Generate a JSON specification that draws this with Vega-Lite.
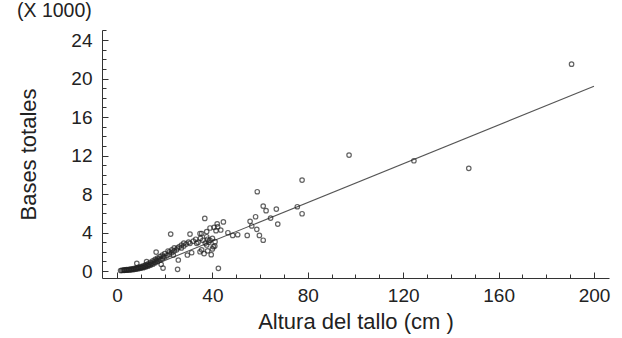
{
  "$schema": "https://vega.github.io/schema/vega-lite/v6.json",
  "width": 507,
  "height": 248,
  "autosize": {"type": "none"},
  "padding": {"left": 102, "top": 30, "right": 13, "bottom": 60},
  "background": "white",
  "title": {"text": "(X 1000)", "anchor": "start", "frame": "group", "dx": -85, "dy": 19, "offset": 12, "baseline": "alphabetic", "fontSize": 19.5, "font": "Liberation Sans", "fontWeight": "normal", "color": "#222"},
  "config": {
    "view": {"stroke": null},
    "axis": {"grid": false, "labelFont": "Liberation Sans", "titleFont": "Liberation Sans", "labelColor": "#222", "titleColor": "#222", "domainColor": "#333", "tickColor": "#333", "titleFontWeight": "normal", "labelOverlap": false, "labelFlush": false}
  },
  "datasets": {
    "points": [
      {"altura": 1.5, "bases": 0.05}, {"altura": 2, "bases": 0.06}, {"altura": 2.5, "bases": 0.08}, {"altura": 3, "bases": 0.07},
      {"altura": 3, "bases": 0.12}, {"altura": 3.5, "bases": 0.1}, {"altura": 4, "bases": 0.09}, {"altura": 4, "bases": 0.15},
      {"altura": 4.5, "bases": 0.12}, {"altura": 5, "bases": 0.1}, {"altura": 5, "bases": 0.18}, {"altura": 5.5, "bases": 0.14},
      {"altura": 6, "bases": 0.12}, {"altura": 6, "bases": 0.22}, {"altura": 6.5, "bases": 0.18}, {"altura": 7, "bases": 0.15},
      {"altura": 7, "bases": 0.26}, {"altura": 7.5, "bases": 0.22}, {"altura": 8, "bases": 0.2}, {"altura": 8, "bases": 0.32},
      {"altura": 8.3, "bases": 0.8}, {"altura": 8.5, "bases": 0.27}, {"altura": 9, "bases": 0.24}, {"altura": 9, "bases": 0.38},
      {"altura": 9.5, "bases": 0.33}, {"altura": 10, "bases": 0.3}, {"altura": 10, "bases": 0.45}, {"altura": 10.5, "bases": 0.4},
      {"altura": 11, "bases": 0.35}, {"altura": 11, "bases": 0.55}, {"altura": 11.5, "bases": 0.48}, {"altura": 12, "bases": 0.42},
      {"altura": 12, "bases": 0.65}, {"altura": 12.4, "bases": 0.97}, {"altura": 12.5, "bases": 0.58}, {"altura": 13, "bases": 0.5},
      {"altura": 13, "bases": 0.75}, {"altura": 13.5, "bases": 0.68}, {"altura": 14, "bases": 0.6}, {"altura": 14, "bases": 0.9},
      {"altura": 14.5, "bases": 0.8}, {"altura": 15, "bases": 0.7}, {"altura": 15, "bases": 1.05}, {"altura": 15.5, "bases": 0.95},
      {"altura": 16, "bases": 0.85}, {"altura": 16, "bases": 1.2}, {"altura": 16.4, "bases": 1.97}, {"altura": 16.5, "bases": 1.1},
      {"altura": 17, "bases": 1.0}, {"altura": 17, "bases": 1.35}, {"altura": 17.5, "bases": 1.25}, {"altura": 18, "bases": 1.15},
      {"altura": 18, "bases": 1.5}, {"altura": 18.5, "bases": 0.7}, {"altura": 19, "bases": 1.3}, {"altura": 19, "bases": 1.65},
      {"altura": 19.3, "bases": 0.3}, {"altura": 19.5, "bases": 1.5}, {"altura": 20, "bases": 1.45}, {"altura": 20, "bases": 1.8},
      {"altura": 21, "bases": 1.6}, {"altura": 21.4, "bases": 2.08}, {"altura": 22, "bases": 1.75}, {"altura": 22, "bases": 2.0},
      {"altura": 22.5, "bases": 3.84}, {"altura": 23, "bases": 1.9}, {"altura": 23, "bases": 2.2}, {"altura": 23.6, "bases": 1.66},
      {"altura": 24, "bases": 2.1}, {"altura": 24, "bases": 2.4}, {"altura": 25, "bases": 2.2}, {"altura": 25.3, "bases": 2.39},
      {"altura": 25.4, "bases": 0.17}, {"altura": 25.7, "bases": 1.14}, {"altura": 26, "bases": 2.5}, {"altura": 27, "bases": 2.4},
      {"altura": 27, "bases": 2.7}, {"altura": 28, "bases": 2.6}, {"altura": 28, "bases": 2.9}, {"altura": 29, "bases": 2.8},
      {"altura": 29.5, "bases": 1.66}, {"altura": 30, "bases": 3.0}, {"altura": 30.6, "bases": 2.88}, {"altura": 30.6, "bases": 3.84},
      {"altura": 31.3, "bases": 1.9}, {"altura": 32, "bases": 3.1}, {"altura": 33, "bases": 3.3}, {"altura": 33.4, "bases": 2.88},
      {"altura": 34, "bases": 3.0}, {"altura": 34.8, "bases": 2.0}, {"altura": 34.8, "bases": 3.9}, {"altura": 35, "bases": 3.4},
      {"altura": 35.5, "bases": 3.9}, {"altura": 35.5, "bases": 2.2}, {"altura": 36, "bases": 3.2}, {"altura": 36.5, "bases": 1.8},
      {"altura": 36.8, "bases": 5.47}, {"altura": 37, "bases": 2.9}, {"altura": 37.6, "bases": 2.7}, {"altura": 37.6, "bases": 3.56},
      {"altura": 37.6, "bases": 4.1}, {"altura": 38, "bases": 3.3}, {"altura": 38, "bases": 2.1}, {"altura": 38.5, "bases": 3.0},
      {"altura": 39, "bases": 3.2}, {"altura": 39, "bases": 4.47}, {"altura": 39.5, "bases": 1.7}, {"altura": 40, "bases": 3.4},
      {"altura": 40, "bases": 2.3}, {"altura": 40.4, "bases": 2.53}, {"altura": 40.7, "bases": 4.54}, {"altura": 41, "bases": 2.6},
      {"altura": 41.1, "bases": 3.05}, {"altura": 41.5, "bases": 4.19}, {"altura": 42, "bases": 4.9}, {"altura": 42.2, "bases": 4.6},
      {"altura": 42.5, "bases": 0.28}, {"altura": 43.5, "bases": 4.26}, {"altura": 44.6, "bases": 5.1}, {"altura": 46.5, "bases": 3.98},
      {"altura": 48.5, "bases": 3.7}, {"altura": 50.6, "bases": 3.77}, {"altura": 54.6, "bases": 3.7}, {"altura": 55.8, "bases": 5.16},
      {"altura": 56.5, "bases": 4.68}, {"altura": 58.1, "bases": 5.64}, {"altura": 58.6, "bases": 4.33}, {"altura": 58.8, "bases": 8.24},
      {"altura": 59.7, "bases": 3.7}, {"altura": 61.3, "bases": 3.2}, {"altura": 61.3, "bases": 6.75}, {"altura": 62.5, "bases": 6.27},
      {"altura": 64.4, "bases": 5.5}, {"altura": 66.8, "bases": 6.44}, {"altura": 67.4, "bases": 4.88}, {"altura": 75.6, "bases": 6.68},
      {"altura": 77.6, "bases": 5.95}, {"altura": 77.6, "bases": 9.45}, {"altura": 97.3, "bases": 12.05}, {"altura": 124.5, "bases": 11.46},
      {"altura": 147.5, "bases": 10.67}, {"altura": 190.6, "bases": 21.5}
    ],
    "fit": [
      {"altura": 10, "bases": 0.08},
      {"altura": 200, "bases": 19.2}
    ]
  },
  "layer": [
    {
      "data": {"name": "fit"},
      "mark": {"type": "line", "color": "#555", "strokeWidth": 1.1},
      "encoding": {
        "x": {"field": "altura", "type": "quantitative", "scale": {"domain": [-6.3, 206.3], "nice": false, "zero": false},
          "axis": {"orient": "bottom", "values": [10, 20, 30, 50, 60, 70, 90, 100, 110, 130, 140, 150, 170, 180, 190], "tickSize": -4, "labels": false, "domain": false, "title": null}},
        "y": {"field": "bases", "type": "quantitative", "scale": {"domain": [-0.727, 25.05], "nice": false, "zero": false},
          "axis": {"orient": "left", "values": [1, 2, 3, 5, 6, 7, 9, 10, 11, 13, 14, 15, 17, 18, 19, 21, 22, 23, 25], "tickSize": -4, "labels": false, "domain": false, "title": null}}
      }
    },
    {
      "data": {"name": "points"},
      "mark": {"type": "point", "shape": "circle", "filled": false, "size": 20, "stroke": "#222", "strokeWidth": 1.2},
      "encoding": {
        "x": {"field": "altura", "type": "quantitative", "scale": {"domain": [-6.3, 206.3], "nice": false, "zero": false},
          "axis": {"orient": "bottom", "values": [0, 40, 80, 120, 160, 200], "tickSize": -6, "labelPadding": 14, "labelFontSize": 19, "title": "Altura del tallo (cm )", "titleFontSize": 22, "titlePadding": 6}},
        "y": {"field": "bases", "type": "quantitative", "scale": {"domain": [-0.727, 25.05], "nice": false, "zero": false},
          "axis": {"orient": "left", "values": [0, 4, 8, 12, 16, 20, 24], "tickSize": -6, "labelPadding": 16, "labelFontSize": 19, "title": "Bases totales", "titleFontSize": 22, "titlePadding": 30}}
      }
    }
  ],
  "resolve": {"axis": {"x": "independent", "y": "independent"}}
}
